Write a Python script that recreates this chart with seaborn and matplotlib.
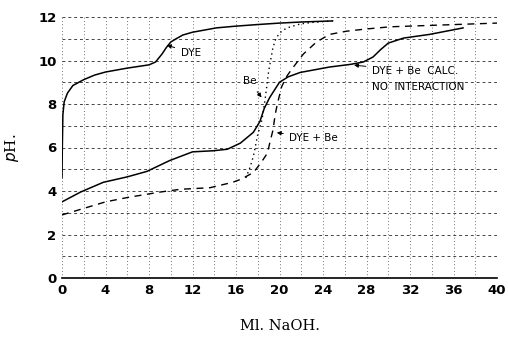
import matplotlib
matplotlib.use("Agg")
import matplotlib.pyplot as plt
import seaborn as sns
import pandas as pd

# ---- data ----
dye_x = [0, 0.03, 0.08, 0.2, 0.5, 1, 2, 3, 4, 6, 8, 8.6, 9.2, 9.6, 10, 10.5, 11.1, 12, 14.2, 16, 17.9, 20, 22, 24.9]
dye_y = [4.6, 6.0, 7.5, 8.1, 8.5, 8.85, 9.12, 9.33, 9.47, 9.65, 9.8, 9.93, 10.3, 10.6, 10.85, 11.0, 11.17, 11.3, 11.5, 11.58, 11.65, 11.72, 11.77, 11.82]

be_x = [16.9, 17.3, 17.6, 18.0, 18.4, 18.7, 19.0, 19.4, 19.7, 20.2, 20.7, 21.9, 23.0, 24.9]
be_y = [4.6, 5.1, 5.6, 6.6, 7.3, 8.3, 9.5, 10.6, 11.05, 11.35, 11.5, 11.68, 11.75, 11.82]

mix_x = [0, 2, 4, 6, 9, 10.9, 13.6, 15.7, 16.5, 17.6, 18.3, 18.9, 19.1, 19.4, 19.6, 19.8, 20.2, 20.7, 21.2, 22.2, 23.4, 24.6, 26.2, 28, 30.2, 34.8, 40]
mix_y = [2.9, 3.2, 3.5, 3.7, 3.95, 4.08, 4.15, 4.4, 4.55, 4.85, 5.3, 5.75, 6.2, 6.8, 7.5, 8.0, 8.8, 9.3, 9.65, 10.3, 10.85, 11.2, 11.35, 11.45, 11.55, 11.63, 11.72]

calc_x = [0, 1.7, 3.8, 6, 7.8, 9.9, 12, 13.9, 15.2, 16.4, 17.6, 18.2, 18.6, 19.1, 20.0, 20.8, 21.9, 24.6, 26.5, 27.7, 28.6, 29.3, 30.0, 31.4, 33.8, 36.9]
calc_y = [3.5, 3.95, 4.4, 4.65, 4.9, 5.4, 5.8, 5.85, 5.92, 6.2, 6.7, 7.2, 7.8, 8.3, 9.0, 9.25, 9.45, 9.7, 9.82, 9.93, 10.16, 10.5, 10.8, 11.03, 11.2, 11.5]

x_ticks = [0, 4, 8, 12, 16, 20, 24, 28, 32, 36, 40]
y_ticks = [0, 2, 4, 6, 8, 10, 12]

sns.set_theme(style="white")
plt.rcParams['font.family'] = ['DejaVu Sans']
plt.rcParams['text.color'] = 'black'

fig = plt.figure(figsize=(5.08, 3.39), dpi=100)
ax = fig.add_axes([62/508, 61/339, 435/508, 261/339])

sns.lineplot(x=dye_x, y=dye_y, ax=ax, color="black", lw=1.1, sort=False, estimator=None)
sns.lineplot(x=be_x, y=be_y, ax=ax, color="black", lw=1.0, sort=False, estimator=None,
             linestyle=(0, (1, 2.5)))
sns.lineplot(x=mix_x, y=mix_y, ax=ax, color="black", lw=1.0, sort=False, estimator=None,
             linestyle=(0, (5, 4)))
sns.lineplot(x=calc_x, y=calc_y, ax=ax, color="black", lw=1.1, sort=False, estimator=None)

ax.set_xlim(0, 40)
ax.set_ylim(0, 12)
ax.set_xticks(x_ticks)
ax.set_yticks(y_ticks)
# grid
for gx in range(0, 41, 2):
    ax.axvline(gx, color="#444444", lw=0.6, linestyle=(0, (1, 3)), zorder=0)
for gy in range(0, 13):
    ax.axhline(gy, color="#444444", lw=0.7, linestyle=(0, (3, 3)), zorder=0)
for s in ["top", "right", "left"]:
    ax.spines[s].set_visible(False)
ax.spines["bottom"].set_color("black")
ax.spines["bottom"].set_linewidth(1.2)

ax.tick_params(axis="both", length=0, labelsize=9.5, pad=4, colors="black")
for lab in ax.get_xticklabels() + ax.get_yticklabels():
    lab.set_fontweight("bold")

ax.set_xlabel("Ml. NaOH.", family="DejaVu Serif", fontsize=10.5, labelpad=16, color="black")
ax.set_ylabel("$\\mathit{p}$H.", family="DejaVu Serif", fontsize=11, labelpad=12, color="black")

fs = 7.5
arrow = dict(arrowstyle="-|>", color="black", lw=0.7, mutation_scale=6)
ax.annotate("DYE", xy=(9.4, 10.75), xytext=(10.9, 10.35), fontsize=fs,
            arrowprops=arrow, va="center", color="black")
ax.annotate("Be", xy=(18.5, 8.2), xytext=(16.6, 9.05), fontsize=fs, va="center",
            arrowprops=arrow, color="black")
ax.annotate("DYE + Be", xy=(19.5, 6.7), xytext=(20.9, 6.45), fontsize=fs, va="center",
            arrowprops=arrow, color="black")
ax.annotate("DYE + Be  CALC.", xy=(26.6, 9.8), xytext=(28.5, 9.5), fontsize=fs, va="center",
            arrowprops=arrow, color="black")
ax.text(28.5, 8.8, "NO  INTERACTION", fontsize=fs, va="center", color="black")

fig.savefig("out.png", dpi=100)
